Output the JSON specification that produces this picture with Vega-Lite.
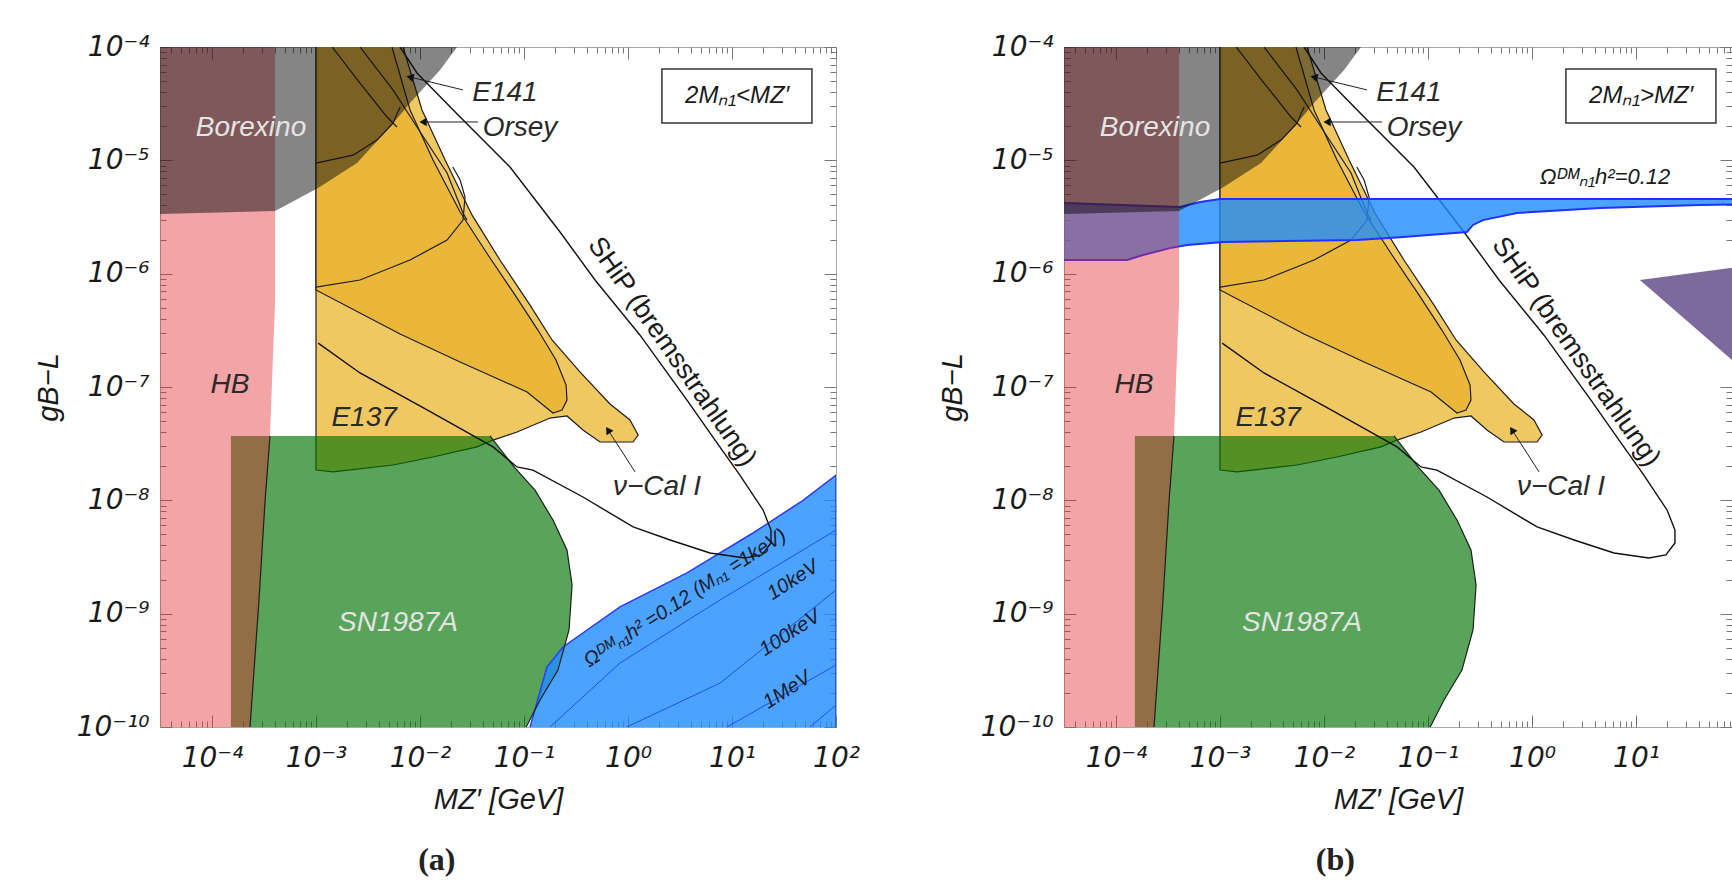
{
"$schema": "https://vega.github.io/schema/vega-lite/v6.json",
"background": "white",
"padding": {"left": 33, "top": 32, "right": 0, "bottom": 0},
"spacing": 77,
"config": {
  "view": {"stroke": "#a8a8a8", "strokeWidth": 1},
  "font": "Liberation Sans",
  "axis": {"domain": false, "grid": false, "labelFont": "DejaVu Sans", "labelFontStyle": "italic", "labelFontSize": 28, "labelColor": "#1a1a1a", "tickColor": "#777", "tickWidth": 1, "labelOverlap": false, "labelFlush": false, "titleFont": "Liberation Sans", "titleFontStyle": "italic", "titleFontSize": 29, "titleFontWeight": "normal", "titleColor": "#1a1a1a"}
},
"datasets": {
  "hb": [{"x":3.162e-5,"y":1e-4},{"x":4.04e-4,"y":1e-4},{"x":4.04e-4,"y":5.86e-7},{"x":3.61e-4,"y":3.7e-8},{"x":3.24e-4,"y":1e-8},{"x":2.83e-4,"y":1.32e-9},{"x":2.32e-4,"y":1e-10},{"x":3.162e-5,"y":1e-10}],
  "borexino": [{"x":3.162e-5,"y":1e-4},{"x":3.162e-5,"y":3.36e-6},{"x":4.04e-4,"y":3.57e-6},{"x":1.045e-3,"y":5.7e-6},{"x":2.48e-3,"y":9.46e-6},{"x":5.04e-3,"y":1.93e-5},{"x":8.02e-3,"y":3.21e-5},{"x":1.56e-2,"y":6.27e-5},{"x":2.27e-2,"y":1e-4}],
  "sn": [{"x":1.52e-4,"y":3.7e-8},{"x":4.71e-2,"y":3.7e-8},{"x":8.18e-2,"y":1.93e-8},{"x":0.1276,"y":1.23e-8},{"x":0.19,"y":6.7e-9},{"x":0.259,"y":3.65e-9},{"x":0.29,"y":1.79e-9},{"x":0.271,"y":7.18e-10},{"x":0.212,"y":3.18e-10},{"x":0.1426,"y":1.73e-10},{"x":0.105,"y":1e-10},{"x":1.52e-4,"y":1e-10}],
  "e137": [{"x":6.87e-3,"y":1e-4},{"x":1.045e-2,"y":2.78e-5},{"x":1.74e-2,"y":1.01e-5},{"x":3.16e-2,"y":3.3e-6},{"x":5.87e-2,"y":1.32e-6},{"x":0.1143,"y":5.28e-7},{"x":0.186,"y":2.6e-7},{"x":0.345,"y":1.36e-7},{"x":0.671,"y":7.08e-8},{"x":1.045,"y":5.12e-8},{"x":1.25,"y":3.77e-8},{"x":1.12,"y":3.27e-8},{"x":0.538,"y":3.27e-8},{"x":0.369,"y":4.17e-8},{"x":0.259,"y":5.55e-8},{"x":0.178,"y":5.32e-8},{"x":8.57e-2,"y":4.01e-8},{"x":5.04e-2,"y":3.4e-8},{"x":3.53e-2,"y":2.96e-8},{"x":1.33e-2,"y":2.41e-8},{"x":5.5e-3,"y":2.05e-8},{"x":1.46e-3,"y":1.78e-8},{"x":1e-3,"y":1.85e-8},{"x":1e-3,"y":1e-4}],
  "e137in": [{"x":5.38e-3,"y":1e-4},{"x":8.02e-3,"y":2.78e-5},{"x":1.33e-2,"y":1.01e-5},{"x":2.43e-2,"y":3.5e-6},{"x":4.51e-2,"y":1.46e-6},{"x":8.18e-2,"y":6.49e-7},{"x":0.136,"y":3.18e-7},{"x":0.203,"y":1.73e-7},{"x":0.254,"y":1.04e-7},{"x":0.259,"y":7.67e-8},{"x":0.232,"y":6.27e-8},{"x":0.19,"y":5.9e-8},{"x":0.107,"y":9.04e-8},{"x":2.43e-2,"y":1.66e-7},{"x":6.43e-3,"y":2.94e-7},{"x":1e-3,"y":7.18e-7},{"x":1e-3,"y":1e-4}],
  "contours": [
    {"c":"cap1","x":1e-3,"y":9.46e-6},{"c":"cap1","x":2.27e-3,"y":1.11e-5},{"c":"cap1","x":3.86e-3,"y":1.51e-5},{"c":"cap1","x":5.5e-3,"y":2.13e-5},{"c":"cap1","x":6.43e-3,"y":2.96e-5},
    {"c":"cap2","x":1e-3,"y":7.62e-7},{"c":"cap2","x":2.65e-3,"y":8.79e-7},{"c":"cap2","x":8.02e-3,"y":1.32e-6},{"c":"cap2","x":1.82e-2,"y":1.98e-6},{"c":"cap2","x":2.59e-2,"y":2.97e-6},{"c":"cap2","x":2.71e-2,"y":4.74e-6},{"c":"cap2","x":2.43e-2,"y":6.7e-6},{"c":"cap2","x":2.07e-2,"y":8.73e-6},
    {"c":"A","x":1.43e-3,"y":1e-4},{"c":"A","x":2.65e-3,"y":4.81e-5},{"c":"A","x":4.82e-3,"y":2.41e-5},{"c":"A","x":6.01e-3,"y":1.97e-5},
    {"c":"B","x":2.65e-3,"y":1e-4},{"c":"B","x":5.5e-3,"y":4.18e-5},{"c":"B","x":9.35e-3,"y":1.97e-5},{"c":"B","x":1.82e-2,"y":7.73e-6},{"c":"B","x":2.59e-2,"y":3.43e-6},{"c":"B","x":2.83e-2,"y":2.97e-6}
  ],
  "ship": [{"x":6.43e-3,"y":1e-4},{"x":9.35e-3,"y":5.9e-5},{"x":2.43e-2,"y":2.41e-5},{"x":7.33e-2,"y":8.73e-6},{"x":0.222,"y":2.33e-6},{"x":0.482,"y":8.79e-7},{"x":1.3,"y":2.88e-7},{"x":3.69,"y":7.67e-8},{"x":6.87,"y":3.4e-8},{"x":11.9,"y":1.67e-8},{"x":19.9,"y":8.22e-9},{"x":23.7,"y":5.47e-9},{"x":23.7,"y":4.2e-9},{"x":19.4,"y":3.3e-9},{"x":13.3,"y":3.1e-9},{"x":6.14,"y":3.43e-9},{"x":2.54,"y":4.47e-9},{"x":1.12,"y":5.82e-9},{"x":0.369,"y":1.07e-8},{"x":0.122,"y":1.85e-8},{"x":8.57e-2,"y":1.97e-8},{"x":5.04e-2,"y":2.96e-8},{"x":1.17e-2,"y":6.27e-8},{"x":2.65e-3,"y":1.33e-7},{"x":1.05e-3,"y":2.44e-7}],
  "arrows": [{"a":"E141","end":"tail","x":2.59e-2,"y":4.18e-5},{"a":"E141","end":"tip","x":8.02e-3,"y":5.43e-5},{"a":"Orsey","end":"tail","x":3.61e-2,"y":2.18e-5},{"a":"Orsey","end":"tip","x":1.07e-2,"y":2.18e-5},{"a":"nucal","end":"tail","x":1.17,"y":1.78e-8},{"a":"nucal","end":"tip","x":0.643,"y":4.17e-8}],
  "labels_dark": [{"t":"E141","x":6.56e-2,"y":3.93e-5},{"t":"Orsey","x":9.16e-2,"y":1.93e-5},{"t":"HB","x":1.49e-4,"y":1.04e-7},{"t":"E137","x":2.9e-3,"y":5.32e-8},{"t":"ν−Cal I","x":1.9,"y":1.31e-8}],
  "labels_light": [{"t":"Borexino","x":2.37e-4,"y":1.93e-5},{"t":"SN1987A","x":6.14e-3,"y":8.28e-10}],
  "label_ship": [{"t":"SHiP (bremsstrahlung)","x":2.65,"y":2.04e-7}],
  "blue_a": [{"x":0.1143,"y":1e-10},{"x":0.166,"y":3.38e-10},{"x":0.237,"y":5.08e-10},{"x":0.838,"y":1.15e-9},{"x":3.69,"y":2.29e-9},{"x":15.9,"y":5.15e-9},{"x":48.2,"y":1e-8},{"x":100,"y":1.67e-8},{"x":100,"y":1e-10}],
  "bluelines_a": [{"k":1,"x":0.178,"y":1e-10},{"k":1,"x":0.838,"y":3.67e-10},{"k":1,"x":7.67,"y":1.32e-9},{"k":1,"x":100,"y":5.47e-9},{"k":2,"x":0.977,"y":1e-10},{"k":2,"x":7.67,"y":2.44e-10},{"k":2,"x":100,"y":1.62e-9},{"k":3,"x":8.95,"y":1e-10},{"k":3,"x":100,"y":3.52e-10},{"k":4,"x":56.2,"y":1e-10},{"k":4,"x":100,"y":1.56e-10}],
  "labels_blue_a": [{"t":"Ωᴰᴹₙ₁h² =0.12 (Mₙ₁ =1keV)","x":3.53,"y":1.37e-9},{"t":"10keV","x":38.6,"y":1.98e-9},{"t":"100keV","x":36.1,"y":6.75e-10},{"t":"1MeV","x":33.8,"y":2.12e-10}],
  "band_b": [{"x":3.162e-5,"y":4.21e-6},{"x":4.12e-4,"y":3.87e-6},{"x":6.43e-4,"y":4.29e-6},{"x":1e-3,"y":4.56e-6},{"x":200,"y":4.56e-6},{"x":200,"y":4.12e-6},{"x":41.2,"y":4.04e-6},{"x":4.51,"y":3.79e-6},{"x":0.718,"y":3.43e-6},{"x":0.338,"y":2.97e-6},{"x":0.271,"y":2.69e-6},{"x":0.237,"y":2.33e-6},{"x":5.38e-2,"y":2.1e-6},{"x":2.07e-2,"y":1.98e-6},{"x":1.07e-3,"y":1.9e-6},{"x":4.82e-4,"y":1.79e-6},{"x":3.3e-4,"y":1.68e-6},{"x":1.82e-4,"y":1.46e-6},{"x":1.28e-4,"y":1.32e-6},{"x":3.162e-5,"y":1.32e-6}],
  "label_omega_b": [{"t":"Ωᴰᴹₙ₁h²=0.12","x":5.04,"y":7.13e-6}],
  "purple_b": [{"x":10.9,"y":8.79e-7},{"x":155.6,"y":1.22e-6},{"x":155.6,"y":1.06e-7}],
  "box": [{"x":2.12,"x2":58.7,"y":6.4e-5,"y2":2.13e-5}],
  "boxtext_a": [{"t":"2Mₙ₁<MZ′","x":11.2,"y":3.7e-5}],
  "boxtext_b": [{"t":"2Mₙ₁>MZ′","x":11.2,"y":3.7e-5}]
},
"hconcat": [
{
  "width": 676, "height": 680,
  "title": {"text": "(a)", "orient": "bottom", "font": "Liberation Serif", "fontSize": 32, "fontWeight": "bold", "color": "#222", "offset": 31, "dx": -10, "frame": "bounds", "anchor": "middle"},
  "layer": [
    {
      "encoding": {
        "x": {"field": "x", "type": "quantitative", "scale": {"type": "log", "domain": [3.162e-5, 100], "nice": false},
              "axis": {"orient": "bottom", "values": [4e-5,5e-5,6e-5,7e-5,8e-5,9e-5,1e-4,2e-4,3e-4,4e-4,5e-4,6e-4,7e-4,8e-4,9e-4,1e-3,2e-3,3e-3,4e-3,5e-3,6e-3,7e-3,8e-3,9e-3,1e-2,2e-2,3e-2,4e-2,5e-2,6e-2,7e-2,8e-2,9e-2,0.1,0.2,0.3,0.4,0.5,0.6,0.7,0.8,0.9,1,2,3,4,5,6,7,8,9,10,20,30,40,50,60,70,80,90,100],
                       "labelExpr": "abs(log(datum.value)/LN10 - round(log(datum.value)/LN10)) < 0.001 ? '10' + replace(replace(replace(replace(replace(replace(replace(replace(replace(replace(replace('' + round(log(datum.value)/LN10), '-', '⁻'), '0', '⁰'), '1', '¹'), '2', '²'), '3', '³'), '4', '⁴'), '5', '⁵'), '6', '⁶'), '7', '⁷'), '8', '⁸'), '9', '⁹') : ''",
                       "title": "MZ′ [GeV]", "tickSize": -6, "labelPadding": 23, "titlePadding": 13}},
        "y": {"field": "y", "type": "quantitative", "scale": {"type": "log", "domain": [1e-10, 1e-4], "nice": false},
              "axis": {"orient": "left", "values": [1e-10,2e-10,3e-10,4e-10,5e-10,6e-10,7e-10,8e-10,9e-10,1e-9,2e-9,3e-9,4e-9,5e-9,6e-9,7e-9,8e-9,9e-9,1e-8,2e-8,3e-8,4e-8,5e-8,6e-8,7e-8,8e-8,9e-8,1e-7,2e-7,3e-7,4e-7,5e-7,6e-7,7e-7,8e-7,9e-7,1e-6,2e-6,3e-6,4e-6,5e-6,6e-6,7e-6,8e-6,9e-6,1e-5,2e-5,3e-5,4e-5,5e-5,6e-5,7e-5,8e-5,9e-5,1e-4],
                       "labelExpr": "abs(log(datum.value)/LN10 - round(log(datum.value)/LN10)) < 0.001 ? '10' + replace(replace(replace(replace(replace(replace(replace(replace(replace(replace(replace('' + round(log(datum.value)/LN10), '-', '⁻'), '0', '⁰'), '1', '¹'), '2', '²'), '3', '³'), '4', '⁴'), '5', '⁵'), '6', '⁶'), '7', '⁷'), '8', '⁸'), '9', '⁹') : ''",
                       "title": "gB−L", "tickSize": -6, "labelPadding": 17, "titlePadding": 13}}
      },
      "layer": [
        {"data": {"name": "e137"}, "mark": {"type": "line", "fill": "#f0c862", "stroke": "#1e1e1e", "strokeWidth": 1.2, "clip": true}, "encoding": {"order": {"value": null}}},
        {"data": {"name": "e137in"}, "mark": {"type": "line", "fill": "#ebb73a", "stroke": "#1e1e1e", "strokeWidth": 1.2, "clip": true}, "encoding": {"order": {"value": null}}},
        {"data": {"name": "contours"}, "mark": {"type": "line", "stroke": "#1e1e1e", "strokeWidth": 1.2, "clip": true}, "encoding": {"detail": {"field": "c"}, "order": {"value": null}}},
        {"data": {"name": "sn"}, "mark": {"type": "line", "fill": "#007202", "fillOpacity": 0.65, "strokeWidth": 0, "clip": true}, "encoding": {"order": {"value": null}}},
        {"data": {"name": "blue_a"}, "mark": {"type": "line", "fill": "#1e8cff", "fillOpacity": 0.8, "stroke": "#2a3cff", "strokeWidth": 1.5, "clip": true}, "encoding": {"order": {"value": null}}},
        {"data": {"name": "bluelines_a"}, "mark": {"type": "line", "stroke": "#1f4dff", "strokeWidth": 1, "clip": true}, "encoding": {"detail": {"field": "k"}, "order": {"value": null}}},
        {"data": {"name": "hb"}, "mark": {"type": "line", "fill": "#e3262b", "fillOpacity": 0.42, "strokeWidth": 0, "clip": true}, "encoding": {"order": {"value": null}}},
        {"data": {"name": "borexino"}, "mark": {"type": "line", "fill": "#0c0c0c", "fillOpacity": 0.5, "strokeWidth": 0, "clip": true}, "encoding": {"order": {"value": null}}},
        {"data": {"name": "hb"}, "transform": [{"filter": "datum.x > 1e-4 && datum.y < 4e-8"}], "mark": {"type": "line", "stroke": "#1e1e1e", "strokeWidth": 1.2, "clip": true}, "encoding": {"order": {"value": null}}},
        {"data": {"name": "sn"}, "transform": [{"filter": "datum.x > 0.01"}], "mark": {"type": "line", "stroke": "#1e1e1e", "strokeWidth": 1.2, "clip": true}, "encoding": {"order": {"value": null}}},
        {"data": {"name": "ship"}, "mark": {"type": "line", "stroke": "#111111", "strokeWidth": 1.4, "clip": true}, "encoding": {"order": {"value": null}}},
        {"data": {"name": "arrows"}, "mark": {"type": "line", "stroke": "#222222", "strokeWidth": 1}, "encoding": {"detail": {"field": "a"}, "order": {"value": null}}},
        {"data": {"name": "arrows"}, "transform": [{"filter": "datum.end == 'tip' && datum.a == 'E141'"}], "mark": {"type": "point", "shape": "triangle-left", "filled": true, "color": "#111111", "opacity": 1, "size": 70, "angle": 14}},
        {"data": {"name": "arrows"}, "transform": [{"filter": "datum.end == 'tip' && datum.a == 'Orsey'"}], "mark": {"type": "point", "shape": "triangle-left", "filled": true, "color": "#111111", "opacity": 1, "size": 70}},
        {"data": {"name": "arrows"}, "transform": [{"filter": "datum.end == 'tip' && datum.a == 'nucal'"}], "mark": {"type": "point", "shape": "triangle-up", "filled": true, "color": "#111111", "opacity": 1, "size": 70, "angle": -33}},
        {"data": {"name": "labels_dark"}, "mark": {"type": "text", "font": "Liberation Sans", "fontStyle": "italic", "fontSize": 28, "color": "#2a2a2a", "align": "center", "baseline": "middle"}, "encoding": {"text": {"field": "t"}}},
        {"data": {"name": "labels_light"}, "mark": {"type": "text", "font": "Liberation Sans", "fontStyle": "italic", "fontSize": 28, "color": "#e4e4e4", "align": "center", "baseline": "middle"}, "encoding": {"text": {"field": "t"}}},
        {"data": {"name": "label_ship"}, "mark": {"type": "text", "font": "Liberation Sans", "fontSize": 27, "color": "#1a1a1a", "align": "center", "baseline": "middle", "angle": 55}, "encoding": {"text": {"field": "t"}}},
        {"data": {"name": "labels_blue_a"}, "mark": {"type": "text", "font": "Liberation Sans", "fontStyle": "italic", "fontSize": 20, "color": "#1a1a2a", "align": "center", "baseline": "middle", "angle": -33}, "encoding": {"text": {"field": "t"}}}
      ]
    },
    {
      "data": {"name": "box"},
      "mark": {"type": "rect", "fill": "white", "stroke": "#333333", "strokeWidth": 1.5},
      "encoding": {
        "x": {"field": "x", "type": "quantitative", "scale": {"type": "log", "domain": [3.162e-5, 100], "nice": false}, "axis": {"orient": "top", "values": [4e-5,5e-5,6e-5,7e-5,8e-5,9e-5,2e-4,3e-4,4e-4,5e-4,6e-4,7e-4,8e-4,9e-4,2e-3,3e-3,4e-3,5e-3,6e-3,7e-3,8e-3,9e-3,2e-2,3e-2,4e-2,5e-2,6e-2,7e-2,8e-2,9e-2,0.2,0.3,0.4,0.5,0.6,0.7,0.8,0.9,2,3,4,5,6,7,8,9,20,30,40,50,60,70,80,90], "labels": false, "title": null, "tickSize": -6}},
        "x2": {"field": "x2"},
        "y": {"field": "y", "type": "quantitative", "scale": {"type": "log", "domain": [1e-10, 1e-4], "nice": false}, "axis": {"orient": "right", "values": [2e-10,3e-10,4e-10,5e-10,6e-10,7e-10,8e-10,9e-10,2e-9,3e-9,4e-9,5e-9,6e-9,7e-9,8e-9,9e-9,2e-8,3e-8,4e-8,5e-8,6e-8,7e-8,8e-8,9e-8,2e-7,3e-7,4e-7,5e-7,6e-7,7e-7,8e-7,9e-7,2e-6,3e-6,4e-6,5e-6,6e-6,7e-6,8e-6,9e-6,2e-5,3e-5,4e-5,5e-5,6e-5,7e-5,8e-5,9e-5], "labels": false, "title": null, "tickSize": -6}},
        "y2": {"field": "y2"}
      }
    },
    {
      "data": {"name": "box"},
      "mark": {"type": "rect", "fillOpacity": 0, "strokeOpacity": 0},
      "encoding": {
        "x": {"field": "x", "type": "quantitative", "scale": {"type": "log", "domain": [3.162e-5, 100], "nice": false}, "axis": {"orient": "top", "values": [1e-4,1e-3,1e-2,0.1,1,10,100], "labels": false, "title": null, "tickSize": -12}},
        "x2": {"field": "x2"},
        "y": {"field": "y", "type": "quantitative", "scale": {"type": "log", "domain": [1e-10, 1e-4], "nice": false}, "axis": {"orient": "right", "values": [1e-10,1e-9,1e-8,1e-7,1e-6,1e-5,1e-4], "labels": false, "title": null, "tickSize": -12}},
        "y2": {"field": "y2"}
      }
    },
    {
      "data": {"name": "boxtext_a"},
      "mark": {"type": "text", "font": "Liberation Sans", "fontStyle": "italic", "fontSize": 24, "color": "#1a1a1a", "align": "center", "baseline": "middle"},
      "encoding": {
        "x": {"field": "x", "type": "quantitative", "axis": {"orient": "bottom", "values": [1e-4,1e-3,1e-2,0.1,1,10,100], "labels": false, "title": null, "tickSize": -12}},
        "y": {"field": "y", "type": "quantitative", "axis": {"orient": "left", "values": [1e-10,1e-9,1e-8,1e-7,1e-6,1e-5,1e-4], "labels": false, "title": null, "tickSize": -12}},
        "text": {"field": "t"}}
    }
  ],
  "resolve": {"axis": {"x": "independent", "y": "independent"}}
},
{
  "width": 668, "height": 680,
  "title": {"text": "(b)", "orient": "bottom", "font": "Liberation Serif", "fontSize": 32, "fontWeight": "bold", "color": "#222", "offset": 31, "frame": "bounds", "anchor": "middle"},
  "layer": [
    {
      "encoding": {
        "x": {"field": "x", "type": "quantitative", "scale": {"type": "log", "domain": [3.162e-5, 83.8], "nice": false},
              "axis": {"orient": "bottom", "values": [4e-5,5e-5,6e-5,7e-5,8e-5,9e-5,1e-4,2e-4,3e-4,4e-4,5e-4,6e-4,7e-4,8e-4,9e-4,1e-3,2e-3,3e-3,4e-3,5e-3,6e-3,7e-3,8e-3,9e-3,1e-2,2e-2,3e-2,4e-2,5e-2,6e-2,7e-2,8e-2,9e-2,0.1,0.2,0.3,0.4,0.5,0.6,0.7,0.8,0.9,1,2,3,4,5,6,7,8,9,10,20,30,40,50,60,70,80],
                       "labelExpr": "abs(log(datum.value)/LN10 - round(log(datum.value)/LN10)) < 0.001 ? '10' + replace(replace(replace(replace(replace(replace(replace(replace(replace(replace(replace('' + round(log(datum.value)/LN10), '-', '⁻'), '0', '⁰'), '1', '¹'), '2', '²'), '3', '³'), '4', '⁴'), '5', '⁵'), '6', '⁶'), '7', '⁷'), '8', '⁸'), '9', '⁹') : ''",
                       "title": "MZ′ [GeV]", "tickSize": -6, "labelPadding": 23, "titlePadding": 13}},
        "y": {"field": "y", "type": "quantitative", "scale": {"type": "log", "domain": [1e-10, 1e-4], "nice": false},
              "axis": {"orient": "left", "values": [1e-10,2e-10,3e-10,4e-10,5e-10,6e-10,7e-10,8e-10,9e-10,1e-9,2e-9,3e-9,4e-9,5e-9,6e-9,7e-9,8e-9,9e-9,1e-8,2e-8,3e-8,4e-8,5e-8,6e-8,7e-8,8e-8,9e-8,1e-7,2e-7,3e-7,4e-7,5e-7,6e-7,7e-7,8e-7,9e-7,1e-6,2e-6,3e-6,4e-6,5e-6,6e-6,7e-6,8e-6,9e-6,1e-5,2e-5,3e-5,4e-5,5e-5,6e-5,7e-5,8e-5,9e-5,1e-4],
                       "labelExpr": "abs(log(datum.value)/LN10 - round(log(datum.value)/LN10)) < 0.001 ? '10' + replace(replace(replace(replace(replace(replace(replace(replace(replace(replace(replace('' + round(log(datum.value)/LN10), '-', '⁻'), '0', '⁰'), '1', '¹'), '2', '²'), '3', '³'), '4', '⁴'), '5', '⁵'), '6', '⁶'), '7', '⁷'), '8', '⁸'), '9', '⁹') : ''",
                       "title": "gB−L", "tickSize": -6, "labelPadding": 17, "titlePadding": 13}}
      },
      "layer": [
        {"data": {"name": "e137"}, "mark": {"type": "line", "fill": "#f0c862", "stroke": "#1e1e1e", "strokeWidth": 1.2, "clip": true}, "encoding": {"order": {"value": null}}},
        {"data": {"name": "e137in"}, "mark": {"type": "line", "fill": "#ebb73a", "stroke": "#1e1e1e", "strokeWidth": 1.2, "clip": true}, "encoding": {"order": {"value": null}}},
        {"data": {"name": "contours"}, "mark": {"type": "line", "stroke": "#1e1e1e", "strokeWidth": 1.2, "clip": true}, "encoding": {"detail": {"field": "c"}, "order": {"value": null}}},
        {"data": {"name": "sn"}, "mark": {"type": "line", "fill": "#007202", "fillOpacity": 0.65, "strokeWidth": 0, "clip": true}, "encoding": {"order": {"value": null}}},
        {"data": {"name": "ship"}, "mark": {"type": "line", "stroke": "#111111", "strokeWidth": 1.4, "clip": true}, "encoding": {"order": {"value": null}}},
        {"data": {"name": "band_b"}, "mark": {"type": "line", "fill": "#1e8cff", "fillOpacity": 0.8, "stroke": "#1f33ff", "strokeWidth": 2, "clip": true}, "encoding": {"order": {"value": null}}},
        {"data": {"name": "hb"}, "mark": {"type": "line", "fill": "#e3262b", "fillOpacity": 0.42, "strokeWidth": 0, "clip": true}, "encoding": {"order": {"value": null}}},
        {"data": {"name": "borexino"}, "mark": {"type": "line", "fill": "#0c0c0c", "fillOpacity": 0.5, "strokeWidth": 0, "clip": true}, "encoding": {"order": {"value": null}}},
        {"data": {"name": "hb"}, "transform": [{"filter": "datum.x > 1e-4 && datum.y < 4e-8"}], "mark": {"type": "line", "stroke": "#1e1e1e", "strokeWidth": 1.2, "clip": true}, "encoding": {"order": {"value": null}}},
        {"data": {"name": "sn"}, "transform": [{"filter": "datum.x > 0.01"}], "mark": {"type": "line", "stroke": "#1e1e1e", "strokeWidth": 1.2, "clip": true}, "encoding": {"order": {"value": null}}},
        {"data": {"name": "purple_b"}, "mark": {"type": "line", "fill": "#7d6a9d", "strokeWidth": 0, "clip": true}, "encoding": {"order": {"value": null}}},
        {"data": {"name": "arrows"}, "mark": {"type": "line", "stroke": "#222222", "strokeWidth": 1}, "encoding": {"detail": {"field": "a"}, "order": {"value": null}}},
        {"data": {"name": "arrows"}, "transform": [{"filter": "datum.end == 'tip' && datum.a == 'E141'"}], "mark": {"type": "point", "shape": "triangle-left", "filled": true, "color": "#111111", "opacity": 1, "size": 70, "angle": 14}},
        {"data": {"name": "arrows"}, "transform": [{"filter": "datum.end == 'tip' && datum.a == 'Orsey'"}], "mark": {"type": "point", "shape": "triangle-left", "filled": true, "color": "#111111", "opacity": 1, "size": 70}},
        {"data": {"name": "arrows"}, "transform": [{"filter": "datum.end == 'tip' && datum.a == 'nucal'"}], "mark": {"type": "point", "shape": "triangle-up", "filled": true, "color": "#111111", "opacity": 1, "size": 70, "angle": -33}},
        {"data": {"name": "labels_dark"}, "mark": {"type": "text", "font": "Liberation Sans", "fontStyle": "italic", "fontSize": 28, "color": "#2a2a2a", "align": "center", "baseline": "middle"}, "encoding": {"text": {"field": "t"}}},
        {"data": {"name": "labels_light"}, "mark": {"type": "text", "font": "Liberation Sans", "fontStyle": "italic", "fontSize": 28, "color": "#e4e4e4", "align": "center", "baseline": "middle"}, "encoding": {"text": {"field": "t"}}},
        {"data": {"name": "label_ship"}, "mark": {"type": "text", "font": "Liberation Sans", "fontSize": 27, "color": "#1a1a1a", "align": "center", "baseline": "middle", "angle": 55}, "encoding": {"text": {"field": "t"}}},
        {"data": {"name": "label_omega_b"}, "mark": {"type": "text", "font": "Liberation Sans", "fontStyle": "italic", "fontSize": 22, "color": "#1a1a1a", "align": "center", "baseline": "middle"}, "encoding": {"text": {"field": "t"}}}
      ]
    },
    {
      "data": {"name": "box"},
      "mark": {"type": "rect", "fill": "white", "stroke": "#333333", "strokeWidth": 1.5},
      "encoding": {
        "x": {"field": "x", "type": "quantitative", "scale": {"type": "log", "domain": [3.162e-5, 83.8], "nice": false}, "axis": {"orient": "top", "values": [4e-5,5e-5,6e-5,7e-5,8e-5,9e-5,2e-4,3e-4,4e-4,5e-4,6e-4,7e-4,8e-4,9e-4,2e-3,3e-3,4e-3,5e-3,6e-3,7e-3,8e-3,9e-3,2e-2,3e-2,4e-2,5e-2,6e-2,7e-2,8e-2,9e-2,0.2,0.3,0.4,0.5,0.6,0.7,0.8,0.9,2,3,4,5,6,7,8,9,20,30,40,50,60,70,80], "labels": false, "title": null, "tickSize": -6}},
        "x2": {"field": "x2"},
        "y": {"field": "y", "type": "quantitative", "scale": {"type": "log", "domain": [1e-10, 1e-4], "nice": false}, "axis": {"orient": "right", "values": [2e-10,3e-10,4e-10,5e-10,6e-10,7e-10,8e-10,9e-10,2e-9,3e-9,4e-9,5e-9,6e-9,7e-9,8e-9,9e-9,2e-8,3e-8,4e-8,5e-8,6e-8,7e-8,8e-8,9e-8,2e-7,3e-7,4e-7,5e-7,6e-7,7e-7,8e-7,9e-7,2e-6,3e-6,4e-6,5e-6,6e-6,7e-6,8e-6,9e-6,2e-5,3e-5,4e-5,5e-5,6e-5,7e-5,8e-5,9e-5], "labels": false, "title": null, "tickSize": -6}},
        "y2": {"field": "y2"}
      }
    },
    {
      "data": {"name": "box"},
      "mark": {"type": "rect", "fillOpacity": 0, "strokeOpacity": 0},
      "encoding": {
        "x": {"field": "x", "type": "quantitative", "scale": {"type": "log", "domain": [3.162e-5, 83.8], "nice": false}, "axis": {"orient": "top", "values": [1e-4,1e-3,1e-2,0.1,1,10], "labels": false, "title": null, "tickSize": -12}},
        "x2": {"field": "x2"},
        "y": {"field": "y", "type": "quantitative", "scale": {"type": "log", "domain": [1e-10, 1e-4], "nice": false}, "axis": {"orient": "right", "values": [1e-10,1e-9,1e-8,1e-7,1e-6,1e-5,1e-4], "labels": false, "title": null, "tickSize": -12}},
        "y2": {"field": "y2"}
      }
    },
    {
      "data": {"name": "boxtext_b"},
      "mark": {"type": "text", "font": "Liberation Sans", "fontStyle": "italic", "fontSize": 24, "color": "#1a1a1a", "align": "center", "baseline": "middle"},
      "encoding": {
        "x": {"field": "x", "type": "quantitative", "axis": {"orient": "bottom", "values": [1e-4,1e-3,1e-2,0.1,1,10], "labels": false, "title": null, "tickSize": -12}},
        "y": {"field": "y", "type": "quantitative", "axis": {"orient": "left", "values": [1e-10,1e-9,1e-8,1e-7,1e-6,1e-5,1e-4], "labels": false, "title": null, "tickSize": -12}},
        "text": {"field": "t"}}
    }
  ],
  "resolve": {"axis": {"x": "independent", "y": "independent"}}
}
]
}
